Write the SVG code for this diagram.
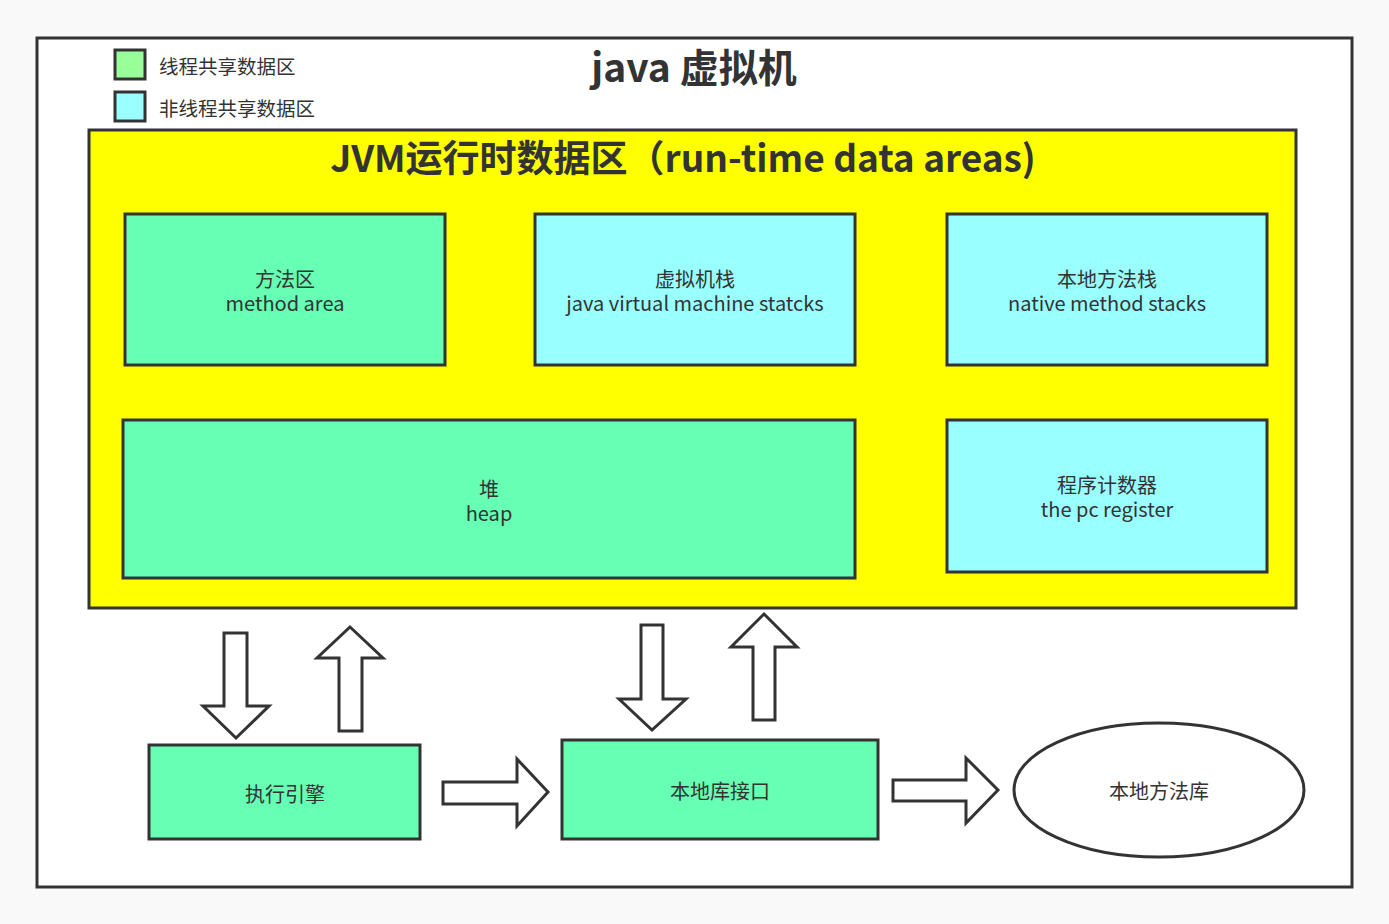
<svg xmlns="http://www.w3.org/2000/svg" width="1389" height="924" viewBox="0 0 1389 924">
<style>
.b{stroke:#333;stroke-width:3}
.g{fill:#66ffb3}
.c{fill:#99ffff}
.t{font-family:"Noto Sans CJK SC","Noto Sans",sans-serif;font-size:20px;fill:#333;text-anchor:middle}
.a{fill:#fff;stroke:#333;stroke-width:3;stroke-linejoin:miter}
</style>
<rect width="1389" height="924" fill="#f9f9f9"/>
<g id="frame"><rect x="37" y="38" width="1315" height="849" fill="#fff" class="b"/></g>
<g id="legend">
<rect x="115" y="50" width="30" height="29" fill="#99ff99" class="b"/>
<rect x="115" y="92" width="30" height="29" fill="#99ffff" class="b"/>
<text x="159" y="74" class="t" style="text-anchor:start;font-size:19.5px">线程共享数据区</text>
<text x="159" y="116" class="t" style="text-anchor:start;font-size:19.5px">非线程共享数据区</text>
</g>
<g id="title"><text x="694" y="82" class="t" style="font-size:39px;font-weight:bold">java 虚拟机</text></g>
<g id="runtime">
<rect x="89" y="130" width="1207" height="478" fill="#ffff00" class="b"/>
<text x="683" y="172" class="t" style="font-size:37px;font-weight:bold">JVM运行时数据区（run-time data areas)</text>
</g>
<g id="method"><rect x="125" y="214" width="320" height="151" class="b g"/><text class="t"><tspan x="285" y="287">方法区</tspan><tspan x="285" y="311">method area</tspan></text></g>
<g id="vmstack"><rect x="535" y="214" width="320" height="151" class="b c"/><text class="t"><tspan x="695" y="287">虚拟机栈</tspan><tspan x="695" y="311">java virtual machine statcks</tspan></text></g>
<g id="nativestack"><rect x="947" y="214" width="320" height="151" class="b c"/><text class="t"><tspan x="1107" y="287">本地方法栈</tspan><tspan x="1107" y="311">native method stacks</tspan></text></g>
<g id="heap"><rect x="123" y="420" width="732" height="158" class="b g"/><text class="t"><tspan x="489" y="497">堆</tspan><tspan x="489" y="521">heap</tspan></text></g>
<g id="pc"><rect x="947" y="420" width="320" height="152" class="b c"/><text class="t"><tspan x="1107" y="493">程序计数器</tspan><tspan x="1107" y="517">the pc register</tspan></text></g>
<g id="engine"><rect x="149" y="745" width="271" height="94" class="b g"/><text class="t" x="285" y="802">执行引擎</text></g>
<g id="nativeif"><rect x="562" y="740" width="316" height="99" class="b g"/><text class="t" x="720" y="799">本地库接口</text></g>
<g id="nativelib"><ellipse cx="1159" cy="790" rx="145" ry="67" fill="#fff" class="b"/><text class="t" x="1159" y="799">本地方法库</text></g>
<g id="connectors">
<polygon class="a" points="224,633 247,633 247,706 269,706 236,738 203,706 224,706"/>
<polygon class="a" points="350,627 383,658 362,658 362,731 339,731 339,658 317,658"/>
<polygon class="a" points="641,625 663,625 663,699 686,699 652,730 619,699 641,699"/>
<polygon class="a" points="764,614 797,647 775,647 775,720 753,720 753,647 731,647"/>
<polygon class="a" points="443,782 517,782 517,759 548,792 517,826 517,804 443,804"/>
<polygon class="a" points="893,780 966,780 966,758 998,790 966,823 966,801 893,801"/>
</g>
</svg>
